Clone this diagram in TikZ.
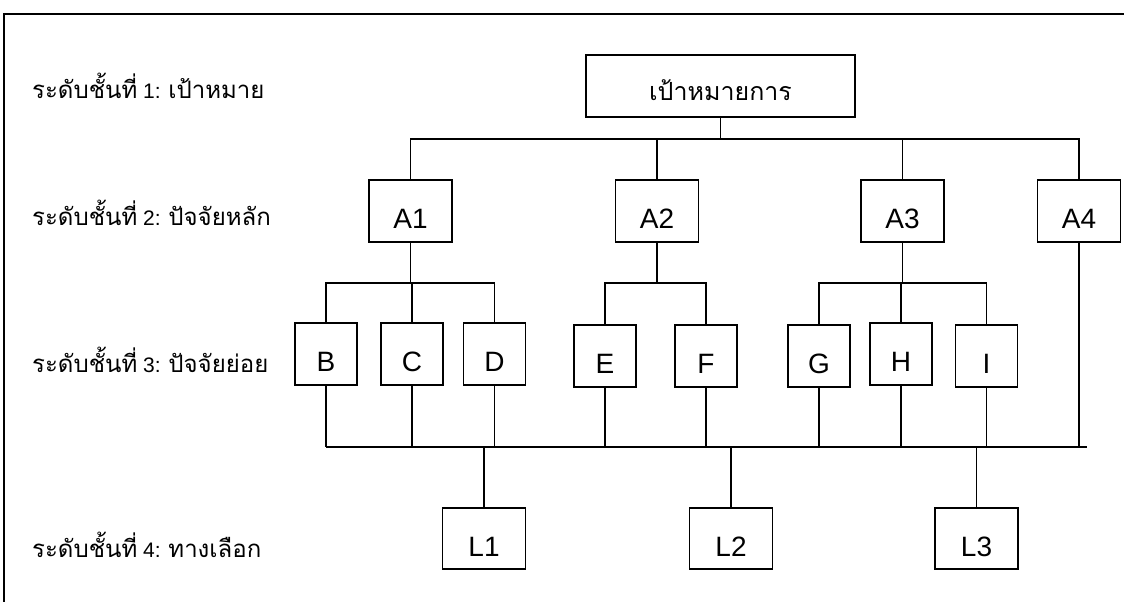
\documentclass[tikz,border=0pt]{standalone}
\usepackage{fontspec}
\setmainfont{Liberation Sans}
\newfontfamily\thaiface[Script=Thai]{Loma}
\newcommand\thai{\thaiface\fontsize{24}{24}\selectfont}

\begin{document}
\begin{tikzpicture}[x=1pt,y=-1pt,
  conn/.style={line width=1.9pt},
  box/.style={draw, line width=1.9pt, inner sep=0pt,
    font=\fontsize{28}{28}\selectfont, text height=34pt, text depth=0pt},
  abox/.style={box, minimum width=83pt, minimum height=62pt},
  sbox/.style={box, minimum width=62pt, minimum height=62pt},
  lbox/.style={box, minimum width=83pt, minimum height=61pt, text height=35pt},
  goalbox/.style={box, minimum width=269pt, minimum height=62pt,
    font=\thaiface\fontsize{25}{25}\selectfont, text height=28pt},
  lvl/.style={anchor=base west, inner sep=0pt, font=\fontsize{21}{21}\selectfont}]
\useasboundingbox (0,0) rectangle (1124,602);

% outer frame (top and left edges)
\draw[line width=1.8pt] (4,602) -- (4,14) -- (1124,14);

% level captions
\node[lvl] (lv1) at (32,98)  {{\thai ระดับชั้นที่} 1: {\thai เป้าหมาย}};
\node[lvl] (lv2) at (32,225) {{\thai ระดับชั้นที่} 2: {\thai ปัจจัยหลัก}};
\node[lvl] (lv3) at (32,372) {{\thai ระดับชั้นที่} 3: {\thai ปัจจัยย่อย}};
\node[lvl] (lv4) at (32,557) {{\thai ระดับชั้นที่} 4: {\thai ทางเลือก}};

% level 1: goal
\node[goalbox] (goal) at (720.5,86) {เป้าหมายการ};

% level 2: main factors
\node[abox] (A1) at (410.5,211) {A1};
\node[abox] (A2) at (657,211)   {A2};
\node[abox] (A3) at (902.5,211) {A3};
\node[abox] (A4) at (1079,211)  {A4};

% level 3: sub-factors
\node[sbox] (B) at (326,354)   {B};
\node[sbox] (C) at (412,354)   {C};
\node[sbox] (D) at (494.5,354) {D};
\node[sbox] (E) at (605,356)   {E};
\node[sbox] (F) at (706,356)   {F};
\node[sbox] (G) at (819,356)   {G};
\node[sbox] (H) at (901,354)   {H};
\node[sbox] (I) at (986.5,356) {I};

% level 4: alternatives
\node[lbox] (L1) at (484,538.5)   {L1};
\node[lbox] (L2) at (731,538.5)   {L2};
\node[lbox] (L3) at (976.5,538.5) {L3};

% bus levels
\coordinate (topbus) at (0,139);
\coordinate (midbus) at (0,283);
\coordinate (lowbus) at (0,447);
\coordinate (lowend) at (1087,447);

% goal to main factors
\draw[conn] (goal.south) -- (goal.south |- topbus);
\draw[conn] (A1.north) -- (A1.north |- topbus) -- (A4.north |- topbus) -- (A4.north);
\draw[conn] (A2.north) -- (A2.north |- topbus);
\draw[conn] (A3.north) -- (A3.north |- topbus);

% main factors to sub-factors
\draw[conn] (A1.south) -- (A1.south |- midbus);
\draw[conn] (B.north) -- (B.north |- midbus) -- (D.north |- midbus) -- (D.north);
\draw[conn] (C.north) -- (C.north |- midbus);
\draw[conn] (A2.south) -- (A2.south |- midbus);
\draw[conn] (E.north) -- (E.north |- midbus) -- (F.north |- midbus) -- (F.north);
\draw[conn] (A3.south) -- (A3.south |- midbus);
\draw[conn] (G.north) -- (G.north |- midbus) -- (I.north |- midbus) -- (I.north);
\draw[conn] (H.north) -- (H.north |- midbus);

% sub-factors to the common bus
\draw[conn] (B.south |- lowbus) -- (lowend);
\foreach \n in {B,C,D,E,F,G,H,I,A4}
  \draw[conn] (\n.south) -- (\n.south |- lowbus);

% common bus to alternatives
\foreach \n in {L1,L2,L3}
  \draw[conn] (\n.north |- lowbus) -- (\n.north);
\end{tikzpicture}
\end{document}
